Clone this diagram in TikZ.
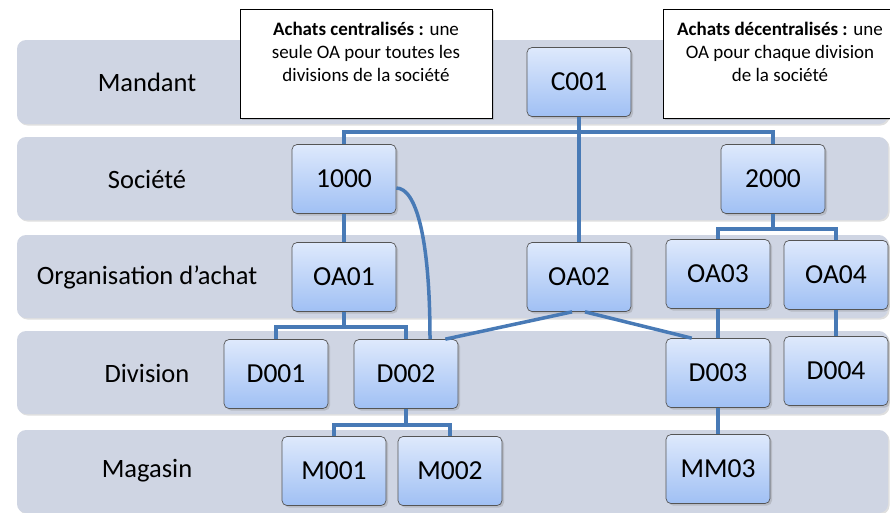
\documentclass[tikz,border=0pt]{standalone}
\usepackage{fontspec}
\setmainfont{Carlito}
\usetikzlibrary{shadows}

\definecolor{bandgray}{RGB}{207,213,227}
\definecolor{boxtop}{RGB}{222,233,252}
\definecolor{boxbot}{RGB}{160,192,244}
\definecolor{boxline}{RGB}{85,85,85}
\definecolor{linkblue}{RGB}{72,122,182}

\tikzset{
  band/.style={fill=bandgray,rounded corners=9pt,minimum width=871pt,minimum height=83pt,inner sep=0pt,
    drop shadow={shadow xshift=1.5pt,shadow yshift=-1.5pt,opacity=0.25}},
  level/.style={inner sep=0pt,font=\fontsize{26.5}{30}\selectfont},
  unit/.style={draw=boxline,line width=0.7pt,rounded corners=5pt,top color=boxtop,bottom color=boxbot,
    minimum width=104pt,minimum height=69pt,inner sep=0pt,font=\fontsize{27.5}{32}\selectfont,
    drop shadow={shadow xshift=2pt,shadow yshift=-2pt,opacity=0.3}},
  notebox/.style={draw=black,line width=1pt,fill=white,inner sep=0pt,
    drop shadow={shadow xshift=2pt,shadow yshift=-2pt,opacity=0.3}},
  notetext/.style={align=center,inner sep=0pt,font=\fontsize{19}{23}\selectfont},
  link/.style={draw=linkblue,line width=3.5pt}
}

\begin{document}
\begin{tikzpicture}[x=1pt,y=-1pt]
\useasboundingbox (0,0) rectangle (890,512);

\node[band] (bMan) at (452.5,82) [minimum height=84pt] {};
\node[band] (bSoc) at (452.5,178.5) {};
\node[band] (bOA) at (452.5,276.5) {};
\node[band] (bDiv) at (452.5,372.5) {};
\node[band] (bMag) at (452.5,471.5) {};

\node[level] (lMan) at (147,82) {Mandant};
\node[level] (lSoc) at (147,179) {Société};
\node[level] (lOA) at (147,277) {Organisation d{\char"0027}achat};
\node[level] (lDiv) at (147,373) {Division};
\node[level] (lMag) at (147,471) {Magasin};

\node[notebox,minimum width=252pt,minimum height=109pt] (noteC) at (366,63.5) {};
\node[notetext,anchor=north] (txtC) at ([yshift=-13pt]noteC.north) {\textbf{Achats centralisés :} une\\seule OA pour toutes les\\divisions de la société};
\node[notebox,minimum width=234pt,minimum height=109pt] (noteD) at (780,63.5) {};
\node[notetext,anchor=north] (txtD) at ([yshift=-13pt]noteD.north) {\textbf{Achats décentralisés :} une\\OA pour chaque division\\de la société};

\node[unit] (C001) at (579,82) {C001};
\node[unit] (S1000) at (344,179) {1000};
\node[unit] (S2000) at (773,179) {2000};
\node[unit] (OA01) at (344,277) {OA01};
\node[unit] (OA02) at (579,277) {OA02};
\node[unit] (OA03) at (718,274) {OA03};
\node[unit] (OA04) at (836,275) {OA04};
\node[unit] (D001) at (276,374) {D001};
\node[unit] (D002) at (406,374) {D002};
\node[unit] (D003) at (718,373) {D003};
\node[unit] (D004) at (836,371) {D004};
\node[unit] (M001) at (334,471) {M001};
\node[unit] (M002) at (450,471) {M002};
\node[unit] (MM03) at (718,469) {MM03};

\coordinate (jC) at (579,132);
\draw[link] (C001.south) -- (OA02.north);
\draw[link] (S1000.north) |- (jC) -| (S2000.north);
\draw[link] (S1000) -- (OA01);
\draw[link] ([yshift=-9pt]S1000.east) .. controls +(20,0) and +(0,-100) .. ([xshift=24pt]D002.north);
\draw[link] (OA01.south) -- ++(0,15) -| (D001.north);
\draw[link] (OA01.south) -- ++(0,15) -| (D002.north);
\draw[link] (D002.south) -- ++(0,16) -| (M001.north);
\draw[link] (D002.south) -- ++(0,16) -| (M002.north);
\draw[link] ([xshift=-7pt]OA02.south) -- ([xshift=-13pt]D002.north east);
\draw[link] ([xshift=6pt]OA02.south) -- ([xshift=26pt]D003.north west);
\draw[link] (S2000.south) -- ++(0,15) -| (OA03.north);
\draw[link] (S2000.south) -- ++(0,15) -| (OA04.north);
\draw[link] (OA03) -- (D003);
\draw[link] (OA04) -- (D004);
\draw[link] (D003) -- (MM03);
\end{tikzpicture}
\end{document}
